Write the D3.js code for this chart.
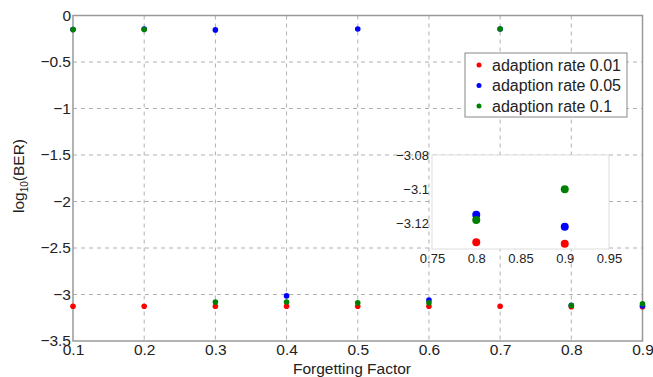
<!DOCTYPE html>
<html><head><meta charset="utf-8">
<script src="https://cdn.jsdelivr.net/npm/d3@7"></script>
<style>
body{margin:0;background:#fff;}
text{font-family:"Liberation Sans",Arial,Helvetica,sans-serif;fill:#222;}
</style></head>
<body><svg id="c" width="653" height="377"></svg>
<script>
const factors = [0.1,0.2,0.3,0.4,0.5,0.6,0.7,0.8,0.9];
const rate001 = [-3.127,-3.127,-3.127,-3.127,-3.127,-3.127,-3.127,-3.131,-3.132];
const rate005 = [-0.15,-0.145,-0.155,-3.015,-0.145,-3.06,-0.145,-3.115,-3.122];
const rate01  = [-0.15,-0.15,-3.08,-3.08,-3.09,-3.09,-0.145,-3.118,-3.10];
const seriesNames = ["adaption rate 0.01","adaption rate 0.05","adaption rate 0.1"];
const seriesColors = ["#ff0000","#0000ff","#008000"];
const xTicks = [0.1,0.2,0.3,0.4,0.5,0.6,0.7,0.8,0.9];
const yTicks = [0,-0.5,-1,-1.5,-2,-2.5,-3,-3.5];
const insetFactors = [0.8,0.9];
const insetXTicks = [0.75,0.8,0.85,0.9,0.95];
const insetYTicks = [-3.08,-3.1,-3.12];

const svg = d3.select("#c");
const fmt = v => (v<0?"\u2212":"") + String(Math.abs(v));
const x = d3.scaleLinear().domain([0.1,0.9]).range([73,642.5]);
const y = d3.scaleLinear().domain([-3.5,0]).range([341,15.5]);
const grid = "#b0b0b0";

// grid
svg.append("g").selectAll("line").data(xTicks.slice(1,-1)).join("line")
  .attr("x1",d=>x(d)).attr("x2",d=>x(d)).attr("y1",y(0)).attr("y2",y(-3.5))
  .attr("stroke",grid).attr("stroke-dasharray","4,4").attr("stroke-width",1);
svg.append("g").selectAll("line").data(yTicks.slice(1,-1)).join("line")
  .attr("y1",d=>y(d)).attr("y2",d=>y(d)).attr("x1",x(0.1)).attr("x2",x(0.9))
  .attr("stroke",grid).attr("stroke-dasharray","4,4").attr("stroke-width",1);

// frame
svg.append("rect").attr("x",x(0.1)).attr("y",y(0)).attr("width",x(0.9)-x(0.1)).attr("height",y(-3.5)-y(0))
  .attr("fill","none").attr("stroke","#999").attr("stroke-width",1.5);

// axes
const xAxis = d3.axisBottom(x).tickValues(xTicks).tickSize(0).tickPadding(3).tickFormat(d=>String(d));
const gx = svg.append("g").attr("transform",`translate(0,${y(-3.5)})`).call(xAxis);
gx.select(".domain").remove();
gx.selectAll("text").style("font-size","15.5px").attr("fill","#222");
const yAxis = d3.axisLeft(y).tickValues(yTicks).tickSize(0).tickPadding(2).tickFormat(fmt);
const gy = svg.append("g").attr("transform",`translate(${x(0.1)},0)`).call(yAxis);
gy.select(".domain").remove();
gy.selectAll("text").style("font-size","15.5px").attr("fill","#222");

svg.append("text").attr("x",352).attr("y",374).attr("text-anchor","middle").style("font-size","15.5px").text("Forgetting Factor");
const yl = svg.append("text").attr("transform","translate(24,176) rotate(-90)").attr("text-anchor","middle").style("font-size","15.5px");
yl.append("tspan").text("log");
yl.append("tspan").attr("dy",4).style("font-size","10px").text("10");
yl.append("tspan").attr("dy",-4).text("(BER)");

// points
const all = [rate001,rate005,rate01];
all.forEach((vals,i)=>{
  svg.append("g").selectAll("circle").data(vals).join("circle")
    .attr("cx",(d,j)=>x(factors[j])).attr("cy",d=>y(d)).attr("r",2.8).attr("fill",seriesColors[i]);
});

// legend
const lg = svg.append("g");
lg.append("rect").attr("x",465).attr("y",53).attr("width",162).attr("height",64).attr("fill","#fff").attr("stroke","#888").attr("stroke-width",1);
seriesNames.forEach((n,i)=>{
  lg.append("circle").attr("cx",479).attr("cy",65+i*20.5).attr("r",2.5).attr("fill",seriesColors[i]);
  lg.append("text").attr("x",492).attr("y",70.5+i*20.5).style("font-size","16px").text(n);
});

// inset
const ix = d3.scaleLinear().domain([0.75,0.95]).range([432,609]);
const iy = d3.scaleLinear().domain([-3.135,-3.08]).range([249,155]);
svg.append("rect").attr("x",ix(0.75)).attr("y",iy(-3.08)).attr("width",ix(0.95)-ix(0.75)).attr("height",iy(-3.135)-iy(-3.08))
  .attr("fill","#fff").attr("stroke","#ddd").attr("stroke-width",1);
const gix = svg.append("g").attr("transform",`translate(0,${iy(-3.135)})`).call(d3.axisBottom(ix).tickValues(insetXTicks).tickSize(0).tickPadding(5).tickFormat(d=>String(d)));
gix.select(".domain").remove();
gix.selectAll("text").style("font-size","13px").attr("fill","#222");
const giy = svg.append("g").attr("transform",`translate(${ix(0.75)},0)`).call(d3.axisLeft(iy).tickValues(insetYTicks).tickSize(0).tickPadding(3).tickFormat(fmt));
giy.select(".domain").remove();
giy.selectAll("text").style("font-size","13px").attr("fill","#222");
all.forEach((vals,i)=>{
  const sub = insetFactors.map(f=>({f, v: vals[factors.indexOf(f)]}));
  svg.append("g").selectAll("circle").data(sub).join("circle")
    .attr("cx",d=>ix(d.f)).attr("cy",d=>iy(d.v)).attr("r",4).attr("fill",seriesColors[i]);
});
</script></body></html>
